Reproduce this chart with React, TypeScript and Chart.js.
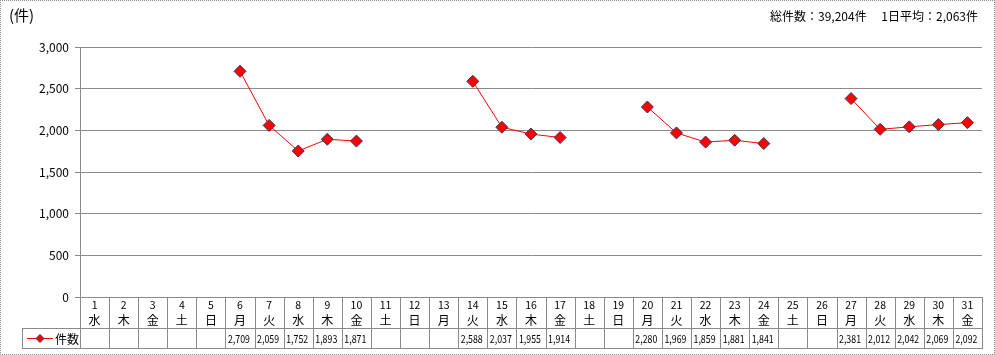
import React, { useEffect, useRef } from "react";
import { Chart, registerables } from "chart.js";

Chart.register(...registerables);

const days = Array.from({ length: 31 }, (_, i) => String(i + 1));
const weekdays = [
  "水", "木", "金", "土", "日", "月", "火",
  "水", "木", "金", "土", "日", "月", "火",
  "水", "木", "金", "土", "日", "月", "火",
  "水", "木", "金", "土", "日", "月", "火",
  "水", "木", "金",
];
const counts: (number | null)[] = [
  null, null, null, null, null, 2709, 2059, 1752, 1893, 1871,
  null, null, null, 2588, 2037, 1955, 1914, null, null, 2280,
  1969, 1859, 1881, 1841, null, null, 2381, 2012, 2042, 2069,
  2092,
];
const seriesName = "件数";
const yTicks = [0, 500, 1000, 1500, 2000, 2500, 3000];
const unitLabel = "(件)";
const summaryText = "総件数：39,204件　 1日平均：2,063件";

const FONT = '"Noto Sans CJK JP", "DejaVu Sans", sans-serif';
const GRID = "#8a8a8a";

const fmt = (v: number) => v.toLocaleString("en-US");

const tablePlugin = {
  id: "tablePlugin",
  afterDraw(chart: any) {
    const ctx = chart.ctx as CanvasRenderingContext2D;
    const x = chart.scales.x;
    const area = chart.chartArea;
    const n = days.length;
    const w = (area.right - area.left) / n;
    const top = area.bottom;
    const mid = top + 31;
    const bot = top + 51;
    const legendLeft = 22;
    ctx.save();
    ctx.strokeStyle = GRID;
    ctx.lineWidth = 1;
    ctx.beginPath();
    ctx.moveTo(area.left, top + 0.5);
    ctx.lineTo(area.right, top + 0.5);
    ctx.moveTo(legendLeft, mid + 0.5);
    ctx.lineTo(area.right, mid + 0.5);
    ctx.moveTo(legendLeft, bot + 0.5);
    ctx.lineTo(area.right, bot + 0.5);
    ctx.moveTo(legendLeft + 0.5, mid);
    ctx.lineTo(legendLeft + 0.5, bot);
    for (let i = 0; i <= n; i++) {
      const px = Math.round(area.left + i * w) + 0.5;
      ctx.moveTo(px, top);
      ctx.lineTo(px, bot + 1);
    }
    ctx.stroke();

    ctx.fillStyle = "#000";
    ctx.textBaseline = "middle";
    for (let i = 0; i < n; i++) {
      const cx = x.getPixelForValue(i);
      ctx.textAlign = "center";
      ctx.font = `10.5px ${FONT}`;
      ctx.fillText(days[i], cx, top + 8);
      ctx.font = `12px ${FONT}`;
      ctx.fillText(weekdays[i], cx, top + 23);
      const v = counts[i];
      if (v !== null) {
        ctx.font = `11px ${FONT}`;
        ctx.textAlign = "left";
        ctx.fillText(fmt(v), cx - w / 2 + 2.5, mid + 11, 22);
      }
    }
    const ly = mid + 10.5;
    ctx.strokeStyle = "#ff0000";
    ctx.beginPath();
    ctx.moveTo(27, ly);
    ctx.lineTo(53, ly);
    ctx.stroke();
    ctx.fillStyle = "#ff0000";
    ctx.strokeStyle = "#333366";
    ctx.beginPath();
    ctx.moveTo(40, ly - 4);
    ctx.lineTo(44, ly);
    ctx.lineTo(40, ly + 4);
    ctx.lineTo(36, ly);
    ctx.closePath();
    ctx.fill();
    ctx.stroke();
    ctx.fillStyle = "#000";
    ctx.font = `12px ${FONT}`;
    ctx.textAlign = "left";
    ctx.fillText(seriesName, 55, ly + 0.5);
    ctx.restore();
  },
};

export default function App() {
  const ref = useRef<HTMLCanvasElement>(null);
  useEffect(() => {
    if (!ref.current) return;
    const chart = new Chart(ref.current, {
      type: "line",
      data: {
        labels: days,
        datasets: [
          {
            label: seriesName,
            data: counts,
            borderColor: "#ff0000",
            borderWidth: 1,
            backgroundColor: "#ff0000",
            pointStyle: "rectRot",
            pointRadius: 6,
            pointBorderColor: "#333366",
            pointBorderWidth: 1,
            pointBackgroundColor: "#ff0000",
            spanGaps: false,
            tension: 0,
          },
        ],
      },
      options: {
        animation: false,
        responsive: false,
        maintainAspectRatio: false,
        layout: { padding: { left: 0, right: 13, top: 47, bottom: 58 } },
        plugins: {
          legend: { display: false },
          tooltip: { enabled: false },
          title: { display: false },
        },
        scales: {
          x: {
            type: "category",
            display: false,
            offset: true,
          },
          y: {
            min: 0,
            max: 3000,
            afterBuildTicks: (s: any) => {
              s.ticks = yTicks.map((v) => ({ value: v }));
            },
            afterFit: (s: any) => {
              s.width = 80;
            },
            grid: {
              color: GRID,
              lineWidth: 1,
              tickLength: 5,
              drawTicks: true,
            },
            border: { display: true, color: GRID },
            ticks: {
              color: "#000",
              padding: 6,
              font: { family: FONT, size: 12 },
              callback: (v: any) => fmt(Number(v)),
            },
          },
        },
      },
      plugins: [tablePlugin],
    });
    return () => chart.destroy();
  }, []);

  return (
    <div
      style={{
        position: "absolute",
        left: 0,
        top: 0,
        width: 995,
        height: 355,
        background: "#fff",
        fontFamily: FONT,
      }}
    >
      <canvas
        ref={ref}
        width={995}
        height={355}
        style={{ position: "absolute", left: 0, top: 0, width: 995, height: 355 }}
      />
      <div
        style={{
          position: "absolute",
          left: 0,
          top: 0,
          width: 995,
          height: 355,
          boxSizing: "border-box",
          border: "1px dotted #8a8a8a",
          pointerEvents: "none",
        }}
      />
      <div
        style={{
          position: "absolute",
          left: 9,
          top: 5,
          fontSize: 15,
          lineHeight: "20px",
          color: "#000",
          whiteSpace: "nowrap",
        }}
      >
        {unitLabel}
      </div>
      <div
        style={{
          position: "absolute",
          right: 17,
          top: 7,
          fontSize: 12,
          lineHeight: "18px",
          color: "#000",
          whiteSpace: "pre",
        }}
      >
        {summaryText}
      </div>
    </div>
  );
}
